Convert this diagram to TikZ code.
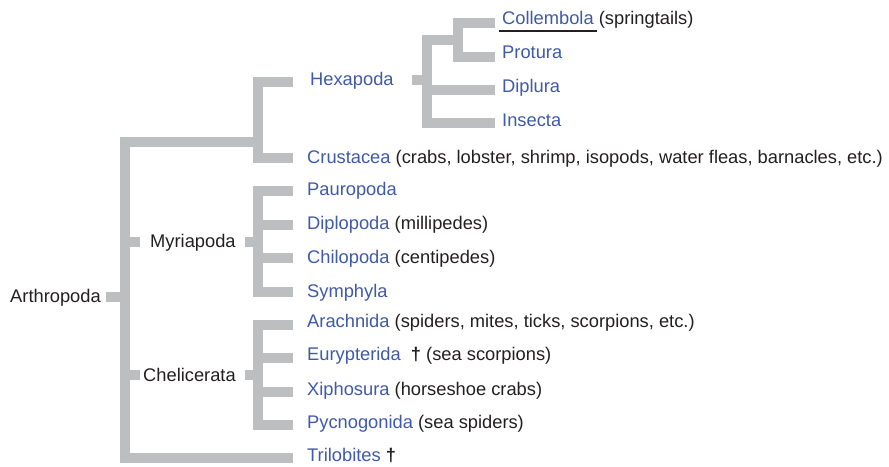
\documentclass[tikz,border=0pt]{standalone}
\usepackage{fontspec}
\setmainfont{Liberation Sans}
\definecolor{barc}{RGB}{188,190,192}
\definecolor{taxc}{RGB}{62,90,168}
\definecolor{txtc}{RGB}{35,31,32}
\begin{document}
\begin{tikzpicture}[x=1pt,y=-1pt,
  bar/.style={draw=barc,line width=10pt,line join=miter},
  lab/.style={anchor=base west,inner sep=0pt,font=\fontsize{18.3}{22}\selectfont,text=txtc}]
\useasboundingbox (0,0) rectangle (889,466);
% labels (position = start of baseline)
\def\rowlabel#1#2#3#4{\node[lab] (#1) at (#2,#3) {#4};}
\rowlabel{coll}{502}{24}{\textcolor{taxc}{Collembola} (springtails)}
\rowlabel{prot}{502}{58}{\textcolor{taxc}{Protura}}
\rowlabel{dipl}{502}{92}{\textcolor{taxc}{Diplura}}
\rowlabel{inse}{502}{126}{\textcolor{taxc}{Insecta}}
\rowlabel{hexa}{310}{85}{\textcolor{taxc}{Hexapoda}}
\rowlabel{crus}{307}{163}{\textcolor{taxc}{Crustacea} (crabs, lobster, shrimp, isopods, water fleas, barnacles, etc.)}
\rowlabel{paur}{307}{195}{\textcolor{taxc}{Pauropoda}}
\rowlabel{dipo}{307}{229}{\textcolor{taxc}{Diplopoda} (millipedes)}
\rowlabel{chil}{307}{263}{\textcolor{taxc}{Chilopoda} (centipedes)}
\rowlabel{symp}{307}{297}{\textcolor{taxc}{Symphyla}}
\rowlabel{arac}{307}{327}{\textcolor{taxc}{Arachnida} (spiders, mites, ticks, scorpions, etc.)}
\rowlabel{eury}{307}{360}{\textcolor{taxc}{Eurypterida}\ \ {\bfseries †} (sea scorpions)}
\rowlabel{xiph}{307}{395}{\textcolor{taxc}{Xiphosura} (horseshoe crabs)}
\rowlabel{pycn}{307}{428}{\textcolor{taxc}{Pycnogonida} (sea spiders)}
\rowlabel{tril}{307}{461}{\textcolor{taxc}{Trilobites} {\bfseries †}}
\rowlabel{arth}{10}{302}{Arthropoda}
\rowlabel{myri}{150}{247}{Myriapoda}
\rowlabel{chel}{143}{381}{Chelicerata}
% underline
\draw[txtc,line width=1.6pt] (499,31) -- (597,31);
% tree: root
\draw[bar] (258,142) -- (125,142) -- (125,458) -- (293,458);
\draw[bar] (106,297) -- (125,297);
% Myriapoda
\draw[bar] (125,242) -- (140,242);
\draw[bar] (245,242) -- (258,242);
\draw[bar] (293,191) -- (258,191) -- (258,292) -- (293,292);
\draw[bar] (258,224.5) -- (293,224.5);
\draw[bar] (258,258) -- (293,258);
% Chelicerata
\draw[bar] (125,375) -- (140,375);
\draw[bar] (245,375) -- (258,375);
\draw[bar] (293,325) -- (258,325) -- (258,425) -- (293,425);
\draw[bar] (258,358) -- (293,358);
\draw[bar] (258,392) -- (293,392);
% Hexapoda + Crustacea
\draw[bar] (293,82) -- (258,82) -- (258,158) -- (293,158);
% Hexapoda
\draw[bar] (412,80) -- (427,80);
\draw[bar] (463,40) -- (427,40) -- (427,123) -- (495,123);
\draw[bar] (427,90) -- (495,90);
\draw[bar] (495,23) -- (458,23) -- (458,57) -- (495,57);
\end{tikzpicture}
\end{document}
